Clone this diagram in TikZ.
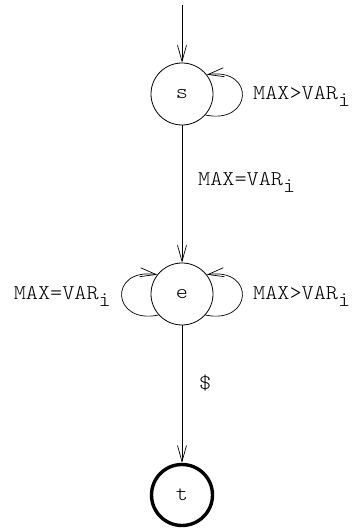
\documentclass[tikz,border=0pt]{standalone}
\usepackage{fontspec}
\setmonofont[FakeStretch=1.1]{lmmonolt10-regular.otf}
\usetikzlibrary{arrows.meta}
\newcommand\mysubi{\raisebox{-0.33em}{i}}
\begin{document}
\begin{tikzpicture}[x=1pt,y=1pt,
  state/.style={circle,draw,minimum size=62pt,inner sep=0pt,font=\ttfamily\fontsize{21}{25}\selectfont,line width=0.8pt},
  final/.style={state,line width=3.4pt,minimum size=61pt},
  lbl/.style={font=\ttfamily\fontsize{21}{25}\selectfont,inner sep=0pt},
  >={Straight Barb[length=16pt,width=9pt]},
  conn/.style={draw,->,line width=0.7pt}]
\useasboundingbox (0,0) rectangle (357,529);
\node[state] (s) at (182,435) {s};
\node[state] (e) at (182,235) {e};
\node[final] (t) at (182,34) {t};
\coordinate (start) at (182,524);
\draw[conn] (start) -- (s);
\draw[conn] (s) -- (e);
\draw[conn] (e) -- (t);
\draw[conn] (s.-42) .. controls +(-12:48) and +(8:50) .. (s.38);
\draw[conn] (e.-42) .. controls +(-12:48) and +(8:50) .. (e.38);
\draw[conn] (e.222) .. controls +(192:48) and +(172:50) .. (e.142);
\node[lbl,anchor=base west] (ls) at (253,429) {MAX>VAR\mysubi};
\node[lbl,anchor=base west] (lse) at (198,343) {MAX=VAR\mysubi};
\node[lbl,anchor=base west] (ler) at (253,229) {MAX>VAR\mysubi};
\node[lbl,anchor=base east] (lel) at (111,229) {MAX=VAR\mysubi};
\node[lbl,anchor=base west] (let) at (199,139) {\$};
\end{tikzpicture}
\end{document}
